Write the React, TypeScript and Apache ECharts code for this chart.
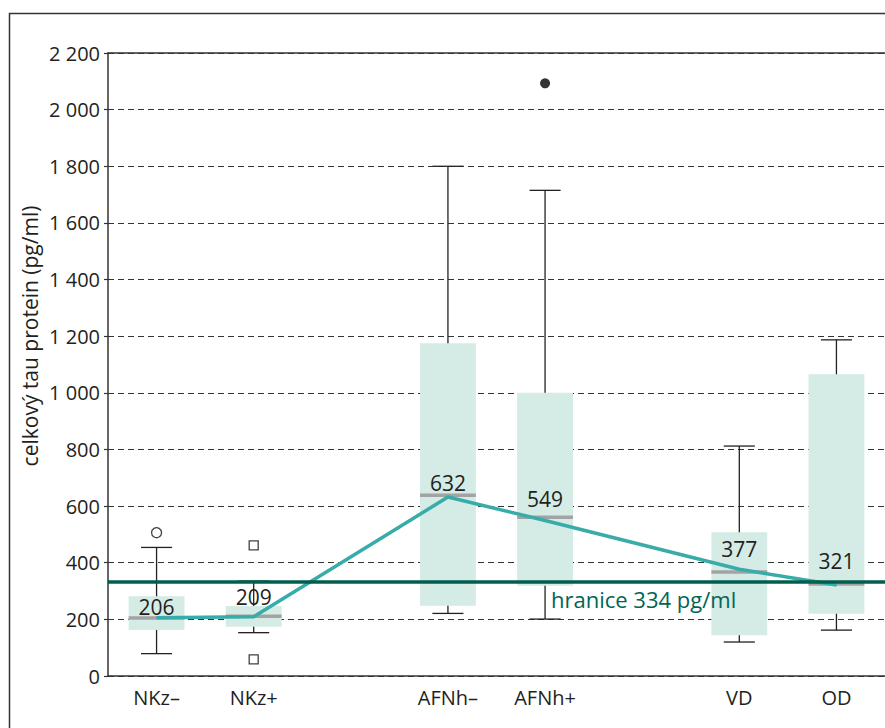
import React, { useEffect, useRef } from "react";
import * as echarts from "echarts";

// Category slots along x (blank slots separate the groups)
const xSlots = ["NKz–", "NKz+", "", "AFNh–", "AFNh+", "", "VD", "OD"];
const categories = ["NKz–", "NKz+", "AFNh–", "AFNh+", "VD", "OD"];

// Box plot statistics (pg/ml)
const whiskerLow = [79, 153, 221, 201, 120, 162];
const quartile1 = [162, 174, 248, 319, 144, 220];
const medianBar = [205, 211, 638, 561, 367, 325];
const quartile3 = [282, 247, 1175, 1000, 508, 1066];
const whiskerHigh = [454, 335, 1800, 1715, 812, 1187];

// Medians connected by the trend line
const lineValues = [206, 209, 632, 549, 377, 321];

// Outliers: [category, value, kind]
const outlierCats = ["NKz–", "NKz+", "NKz+", "AFNh+"];
const outlierValues = [506, 461, 59, 2093];
const outlierKinds = ["openCircle", "openSquare", "openSquare", "filledCircle"];

// Threshold
const thresholdValue = 334;
const thresholdLabel = "hranice 334 pg/ml";

const yName = "celkový tau protein (pg/ml)";
const yMin = 0;
const yMax = 2200;
const yStep = 200;

const FONT = "'Open Sans', 'Noto Sans', sans-serif";
const TEXT = "#231f20";

const fmt = (v: number) =>
  v >= 1000 ? `${Math.floor(v / 1000)} ${String(v % 1000).padStart(3, "0")}` : String(v);

export default function App() {
  const ref = useRef<HTMLDivElement>(null);

  useEffect(() => {
    if (!ref.current) return;
    const chart = echarts.init(ref.current, undefined, { renderer: "svg" });

    const boxData = categories.map((c, i) => [
      xSlots.indexOf(c),
      whiskerLow[i],
      quartile1[i],
      medianBar[i],
      quartile3[i],
      whiskerHigh[i],
    ]);

    const labelDist = [0, 9, 3, 11, 9, 13];
    const lineData = xSlots.map((name) => {
      const i = categories.indexOf(name);
      if (i < 0) return "-";
      return { value: lineValues[i], label: { distance: labelDist[i] } };
    });

    const outlierData = outlierCats.map((c, i) => {
      const kind = outlierKinds[i];
      const filled = kind === "filledCircle";
      return {
        value: [xSlots.indexOf(c), outlierValues[i]],
        symbol: kind === "openSquare" ? "rect" : "circle",
        symbolSize: kind === "openSquare" ? 9 : 10,
        itemStyle: {
          color: filled ? "#000" : "#fff",
          borderColor: "#111",
          borderWidth: filled ? 0 : 1.3,
        },
      };
    });

    const option: any = {
      animation: false,
      backgroundColor: "#fff",
      textStyle: { fontFamily: FONT },
      grid: { left: 108, top: 53, right: -5, bottom: 52 },
      xAxis: [
        {
          type: "category",
          data: xSlots,
          position: "bottom",
          axisLine: { show: true, lineStyle: { color: "#333", width: 1.5 } },
          axisTick: { show: false },
          axisLabel: { color: TEXT, fontSize: 20, fontFamily: FONT, margin: 11 },
          splitLine: { show: false },
        },
        {
          type: "category",
          data: xSlots,
          position: "top",
          axisLine: { show: true, lineStyle: { color: "#333", width: 1.5 } },
          axisTick: { show: false },
          axisLabel: { show: false },
          splitLine: { show: false },
        },
      ],
      yAxis: {
        type: "value",
        min: yMin,
        max: yMax,
        interval: yStep,
        axisLine: { show: true, lineStyle: { color: "#333", width: 1.5 } },
        axisTick: { show: true, length: 4, lineStyle: { color: "#333", width: 1.2 } },
        axisLabel: { color: TEXT, fontSize: 20, fontFamily: FONT, margin: 8, formatter: fmt },
        splitLine: { show: true, lineStyle: { color: "#333", width: 1.2, type: [6, 4] } },
      },
      graphic: [
        {
          type: "rect",
          shape: { x: 9.5, y: 13.5, width: 900, height: 800 },
          style: { fill: "none", stroke: "#333", lineWidth: 1.5 },
          silent: true,
          z: -10,
        },
        {
          type: "text",
          x: 30,
          y: 336,
          rotation: Math.PI / 2,
          style: {
            text: yName,
            fontSize: 21,
            fontFamily: FONT,
            fill: TEXT,
            textAlign: "center",
            textVerticalAlign: "middle",
          },
        },
        {
          type: "text",
          x: 551,
          y: 599,
          style: {
            text: thresholdLabel,
            fontSize: 22,
            fontFamily: FONT,
            fill: "#006654",
            textAlign: "left",
            textVerticalAlign: "middle",
          },
          z: 10,
        },
      ],
      series: [
        {
          type: "custom",
          z: 2,
          data: boxData,
          encode: { x: 0, y: [1, 2, 3, 4, 5] },
          renderItem: (params: any, api: any) => {
            const x = api.value(0);
            const lo = api.coord([x, api.value(1)]);
            const q1 = api.coord([x, api.value(2)]);
            const md = api.coord([x, api.value(3)]);
            const q3 = api.coord([x, api.value(4)]);
            const hi = api.coord([x, api.value(5)]);
            const slot = api.size([1, 0])[0];
            const bw = slot * 0.575;
            const cw = slot * 0.32;
            const cx = lo[0];
            const ws = { stroke: "#222", lineWidth: 1.3 };
            return {
              type: "group",
              children: [
                { type: "line", shape: { x1: cx, y1: hi[1], x2: cx, y2: lo[1] }, style: ws },
                { type: "line", shape: { x1: cx - cw / 2, y1: hi[1], x2: cx + cw / 2, y2: hi[1] }, style: ws },
                { type: "line", shape: { x1: cx - cw / 2, y1: lo[1], x2: cx + cw / 2, y2: lo[1] }, style: ws },
                {
                  type: "rect",
                  shape: { x: cx - bw / 2, y: q3[1], width: bw, height: q1[1] - q3[1] },
                  style: { fill: "#d5ebe5" },
                },
                {
                  type: "line",
                  shape: { x1: cx - bw / 2, y1: md[1], x2: cx + bw / 2, y2: md[1] },
                  style: { stroke: "#a3a3a3", lineWidth: 3.5 },
                },
              ],
            };
          },
        },
        {
          type: "scatter",
          z: 3,
          data: outlierData,
          markLine: {
            silent: true,
            symbol: "none",
            label: { show: false },
            lineStyle: { color: "#005e4e", width: 3.5, type: "solid" },
            data: [{ yAxis: thresholdValue }],
          },
        },
        {
          type: "line",
          z: 4,
          data: lineData,
          connectNulls: true,
          symbol: "circle",
          symbolSize: 1,
          itemStyle: { color: "#37aca8" },
          lineStyle: { color: "#37aca8", width: 3.5 },
          label: {
            show: true,
            position: "top",
            color: TEXT,
            fontSize: 21,
            fontFamily: FONT,
          },
        },
      ],
    };

    chart.setOption(option);
    return () => chart.dispose();
  }, []);

  return (
    <div
      ref={ref}
      style={{ position: "fixed", left: 0, top: 0, width: 885, height: 728 }}
    />
  );
}
